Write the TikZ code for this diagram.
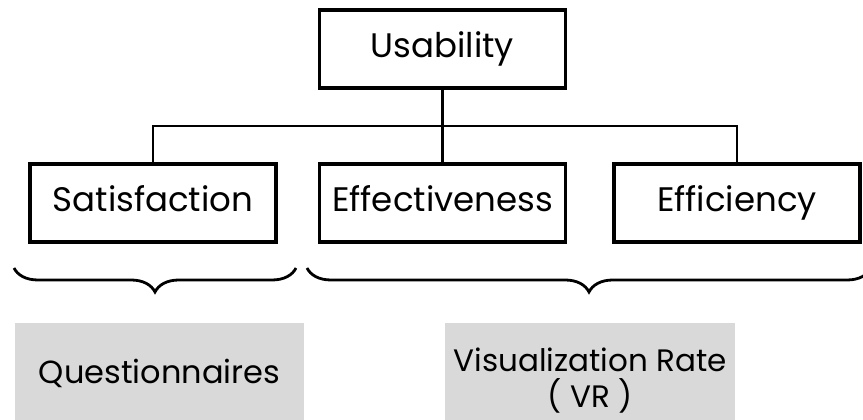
\documentclass[tikz,border=0pt]{standalone}
\usepackage{fontspec}
\setmainfont{Poppins}[Ligatures=NoCommon]
\usetikzlibrary{decorations.pathreplacing}
\definecolor{boxgray}{HTML}{D9D9D9}
\begin{document}
\begin{tikzpicture}[x=1pt,y=1pt,
  mainbox/.style={draw=black, line width=3.5pt, minimum width=246pt, minimum height=78pt, inner sep=0pt, text height=24pt, text depth=7pt, font=\fontsize{34}{40}\selectfont},
  graybox/.style={fill=boxgray, minimum width=289pt, inner sep=0pt, align=center, font=\fontsize{32}{36}\selectfont},
  conn/.style={line width=2.5pt},
  bracestyle/.style={line width=2.8pt, decorate, decoration={brace, mirror, amplitude=24pt}}
]
\useasboundingbox (0,0) rectangle (863,420);
\clip (0,0) rectangle (863,420);
\node[mainbox] (usab) at (442.5,371) {Usability};
\node[mainbox] (sat) at (153,217) {Satisfaction};
\node[mainbox] (eff) at (442.5,217) {Effectiveness};
\node[mainbox] (effi) at (737,217) {Efficiency};
\coordinate (hub) at (442.5,294);
\draw[conn] (usab.south) -- (hub);
\draw[conn] (sat.north) |- (hub) -| (effi.north);
\draw[conn] (hub) -- (eff.north);
\coordinate (b1s) at (14,152);
\coordinate (b1e) at (296,152);
\coordinate (b2s) at (307,152);
\coordinate (b2e) at (871,152);
\draw[bracestyle] (b1s) -- (b1e);
\draw[bracestyle] (b2s) -- (b2e);
\node[graybox, minimum height=100pt] (quest) at (159.5,47) {Questionnaires};
\node[graybox, minimum width=290pt, minimum height=116pt, font=\fontsize{31}{36}\selectfont] (vr) at (590,39) {Visualization Rate\\( VR )};
\end{tikzpicture}
\end{document}
